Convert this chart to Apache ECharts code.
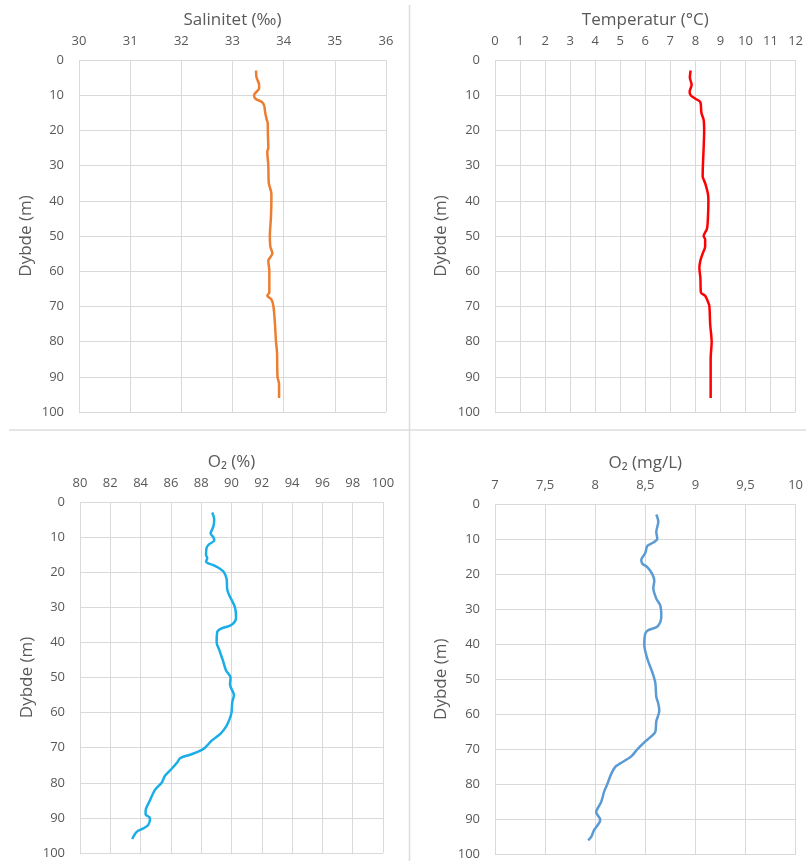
<!DOCTYPE html>
<html>
<head>
<meta charset="utf-8">
<script src="https://cdn.jsdelivr.net/npm/echarts@6/dist/echarts.min.js"></script>
<style>
html,body{margin:0;padding:0;background:#fff;}
#chart{width:806px;height:861px;}
</style>
</head>
<body>
<div id="chart"></div>
<script>
// ---- Data ----
var depthTicks = [0,10,20,30,40,50,60,70,80,90,100];

var salDepth = [3,5,7,8,10,11,12,13,15,17,18,20,25,26,30,35,38,40,45,50,53,55,57,60,66,67,68,70,75,80,83,90,92,96];
var salValue = [33.46,33.47,33.52,33.52,33.42,33.45,33.58,33.62,33.64,33.67,33.69,33.69,33.70,33.68,33.70,33.71,33.76,33.76,33.75,33.73,33.74,33.78,33.70,33.72,33.72,33.68,33.76,33.80,33.83,33.85,33.87,33.88,33.91,33.91];

var tempDepth = [3,5,7,9,10,11,12,15,17,20,25,30,33,35,38,40,45,48,50,51,53,55,57,59,62,66,67,69,70,75,78,80,85,90,96];
var tempValue = [7.81,7.78,7.85,7.77,7.81,8.0,8.2,8.24,8.33,8.35,8.33,8.3,8.29,8.39,8.5,8.52,8.5,8.46,8.33,8.39,8.39,8.29,8.2,8.16,8.2,8.22,8.39,8.52,8.56,8.59,8.63,8.65,8.61,8.61,8.61];

var o2pDepth = [3,5,7,9,10,11,12,13,15,16,17,18,19,20,22,25,27,30,33,35,36,37,40,42,45,48,50,52,55,57,60,62,64,66,68,70,71,72,73,74,76,78,80,82,85,88,89,90,92,93,94,96];
var o2pValue = [88.73,88.86,88.80,88.62,88.8,88.86,88.53,88.36,88.32,88.4,88.32,88.8,89.24,89.5,89.68,89.72,89.9,90.23,90.3,90.01,89.35,89.06,89.02,89.18,89.42,89.64,89.94,89.9,90.16,90.05,90.0,89.86,89.64,89.28,88.69,88.25,87.87,87.26,86.6,86.45,86.05,85.61,85.39,84.95,84.62,84.33,84.33,84.62,84.51,84.18,83.74,83.45];

var o2mDepth = [3,5,8,10,11,12,14,16,17,18,20,22,24,27,29,32,35,36,37,40,42,45,48,51,55,57,59,62,65,67,68,70,72,74,75,77,80,82,85,88,89,90,91,93,95,96];
var o2mValue = [8.61,8.63,8.61,8.62,8.58,8.52,8.50,8.46,8.47,8.52,8.57,8.59,8.58,8.61,8.65,8.66,8.62,8.53,8.50,8.49,8.50,8.53,8.57,8.60,8.61,8.63,8.64,8.61,8.60,8.53,8.49,8.42,8.36,8.25,8.20,8.16,8.12,8.09,8.06,8.01,8.03,8.05,8.04,7.99,7.96,7.93];

var titles = ['Salinitet (‰)', 'Temperatur (°C)', 'O\u2082 (%)', 'O\u2082 (mg/L)'];
var xMin = [30, 0, 80, 7];
var xMax = [36, 12, 100, 10];
var xStep = [1, 1, 2, 0.5];
var yName = 'Dybde (m)';

// ---- Chart ----
var FONT = '"Open Sans", "Liberation Sans", sans-serif';
var TXT = '#595959';
var GRID = '#d9d9d9';

function pairs(xs, ys){ return xs.map(function(v,i){ return [v, ys[i]]; }); }

var grids = [
  {left:79, top:60, width:307, height:352},
  {left:495, top:60, width:307, height:352},
  {left:80, top:502, width:303, height:351},
  {left:495, top:504, width:306, height:351}
];
var nameGaps = [31, 31, 31, 32];
var yGaps = [44, 45, 44, 45];

var xAxes = [], yAxes = [];
for (var i=0;i<4;i++){
  xAxes.push({
    gridIndex:i, type:'value', position:'top',
    min:xMin[i], max:xMax[i], interval:xStep[i],
    name:titles[i], nameLocation:'middle', nameGap:nameGaps[i],
    nameTextStyle:{color:TXT, fontSize:17, fontFamily:FONT},
    axisLine:{show:false}, axisTick:{show:false},
    axisLabel:{color:TXT, fontSize:13, fontFamily:FONT, margin:12,
      formatter:function(v){ return String(v).replace('.', ','); }},
    splitLine:{show:true, lineStyle:{color:GRID, width:1}}
  });
  yAxes.push({
    gridIndex:i, type:'value', inverse:true, min:0, max:100, interval:10,
    name:yName, nameLocation:'middle', nameGap:yGaps[i], nameRotate:90,
    nameTextStyle:{color:TXT, fontSize:17, fontFamily:FONT},
    axisLine:{show:false}, axisTick:{show:false},
    axisLabel:{color:TXT, fontSize:13, fontFamily:FONT, margin:15},
    splitLine:{show:true, lineStyle:{color:GRID, width:1}}
  });
}
var series = [
  {data:pairs(salValue, salDepth), color:'#ED7D31'},
  {data:pairs(tempValue, tempDepth), color:'#FF0000'},
  {data:pairs(o2pValue, o2pDepth), color:'#1AAEE8'},
  {data:pairs(o2mValue, o2mDepth), color:'#5B9BD5'}
].map(function(s,i){
  return {type:'line', xAxisIndex:i, yAxisIndex:i, data:s.data, showSymbol:false,
    smooth:0.3, lineStyle:{color:s.color, width:2.5}, itemStyle:{color:s.color},
    animation:false};
});

var chart = echarts.init(document.getElementById('chart'), null, {renderer:'canvas'});
chart.setOption({
  backgroundColor:'#ffffff',
  animation:false,
  grid:grids,
  xAxis:xAxes,
  yAxis:yAxes,
  series:series,
  graphic:[
    {type:'line', shape:{x1:409.5, y1:5, x2:409.5, y2:861}, style:{stroke:'#dcdcdc', lineWidth:1.5}, silent:true},
    {type:'line', shape:{x1:9, y1:430, x2:806, y2:430}, style:{stroke:'#dcdcdc', lineWidth:1.5}, silent:true}
  ]
});
</script>
</body>
</html>
